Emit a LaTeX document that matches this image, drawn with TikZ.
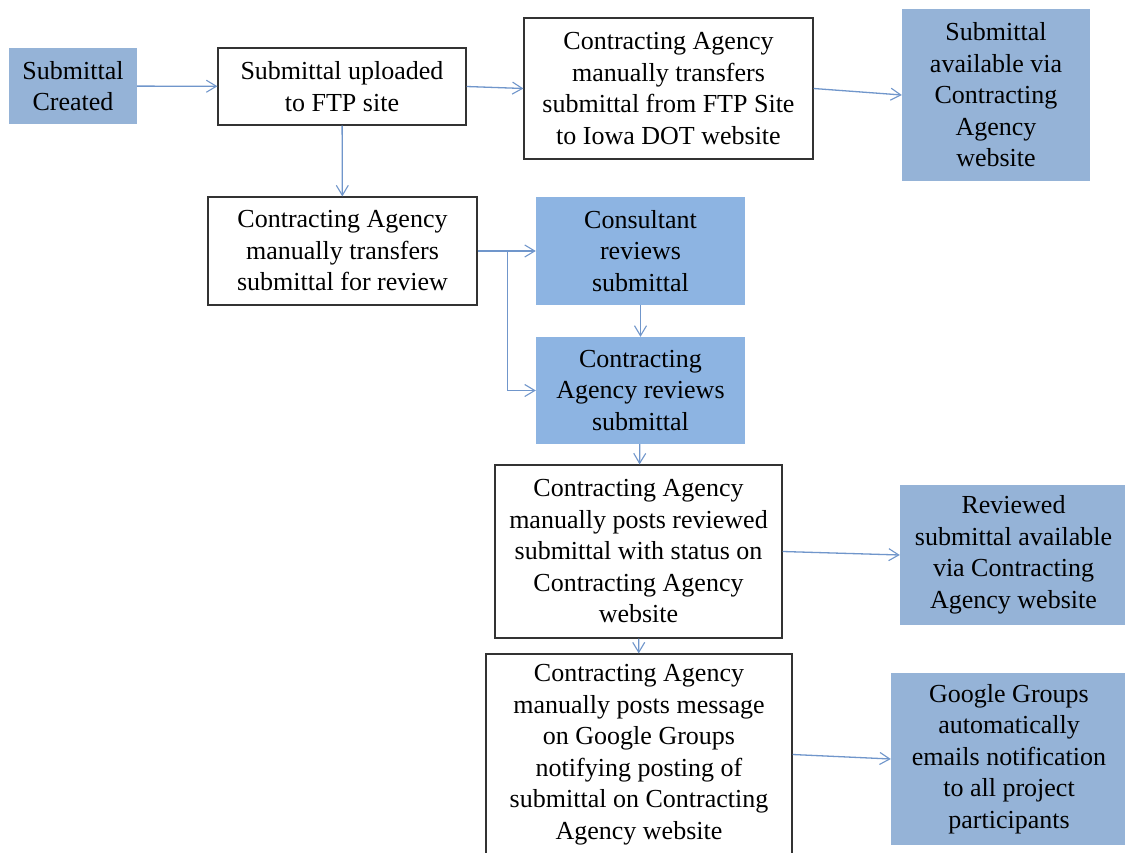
\documentclass[tikz,border=0pt]{standalone}
\usepackage{fontspec}
\setmainfont{Liberation Serif}
\usetikzlibrary{arrows.meta}
\definecolor{boxblue}{HTML}{95B3D7}
\definecolor{revblue}{HTML}{8DB4E2}
\definecolor{linkblue}{HTML}{7096CB}
\definecolor{edge}{HTML}{333333}
\tikzset{
  base/.style={inner sep=0pt, align=center, font=\fontsize{26}{31.5}\selectfont},
  wbox/.style={base, draw=edge, line width=1.2pt, fill=white},
  bbox/.style={base, fill=boxblue},
  rbox/.style={base, fill=revblue},
  link/.style={draw=linkblue, line width=1.3pt, -{Straight Barb[length=10pt,width=12pt,line width=1.1pt]}}
}
\begin{document}
\begin{tikzpicture}[x=1pt,y=-1pt]
\useasboundingbox[fill=white] (0,0) rectangle (1125,853);

% top row
\node[bbox, minimum width=128, minimum height=76] (cre) at (73,86) {Submittal\\Created};
\node[wbox, minimum width=248, minimum height=77] (up) at (342,86.5) {Submittal uploaded\\to FTP site};
\node[wbox, minimum width=289, minimum height=141] (ftp) at (668.5,88.5) {Contracting Agency\\manually transfers\\submittal from FTP Site\\to Iowa DOT website};
\node[bbox, minimum width=188, minimum height=172] (avail) at (996,95) {Submittal\\available via\\Contracting\\Agency\\website};

% review branch
\node[wbox, minimum width=269, minimum height=108] (man) at (342.5,251) {Contracting Agency\\manually transfers\\submittal for review};
\node[rbox, minimum width=209, minimum height=108] (cons) at (640.5,251) {Consultant\\reviews\\submittal};
\node[rbox, minimum width=209, minimum height=107] (car) at (640.5,390.5) {Contracting\\Agency reviews\\submittal};

% posting
\node[wbox, minimum width=287, minimum height=173] (post) at (638.5,551.5) {Contracting Agency\\manually posts reviewed\\submittal with status on\\Contracting Agency\\website};
\node[bbox, minimum width=227, minimum height=140] (rav) at (1013.5,555) {Reviewed\\submittal available\\via Contracting\\Agency website};
\node[wbox, minimum width=306, minimum height=201] (msg) at (639,754.5) {Contracting Agency\\manually posts message\\on Google Groups\\notifying posting of\\submittal on Contracting\\Agency website};
\node[bbox, minimum width=236, minimum height=172] (gg) at (1009,759) {Google Groups\\automatically\\emails notification\\to all project\\participants};

% connectors
\draw[link] (cre) -- (up);
\draw[link] (up.east) -- (ftp.west);
\draw[link] (ftp.east) -- (avail.west);
\draw[link] (up) -- (man);
\draw[link] (man.east) -- (cons.west);
\draw[link] (man.east) -- ++(30,0) |- (car.west);
\draw[link] (cons) -- (car);
\draw[link] (car) -- (post);
\draw[link] (post.east) -- (rav.west);
\draw[link] (post) -- (msg);
\draw[link] (msg.east) -- (gg.west);
\end{tikzpicture}
\end{document}
